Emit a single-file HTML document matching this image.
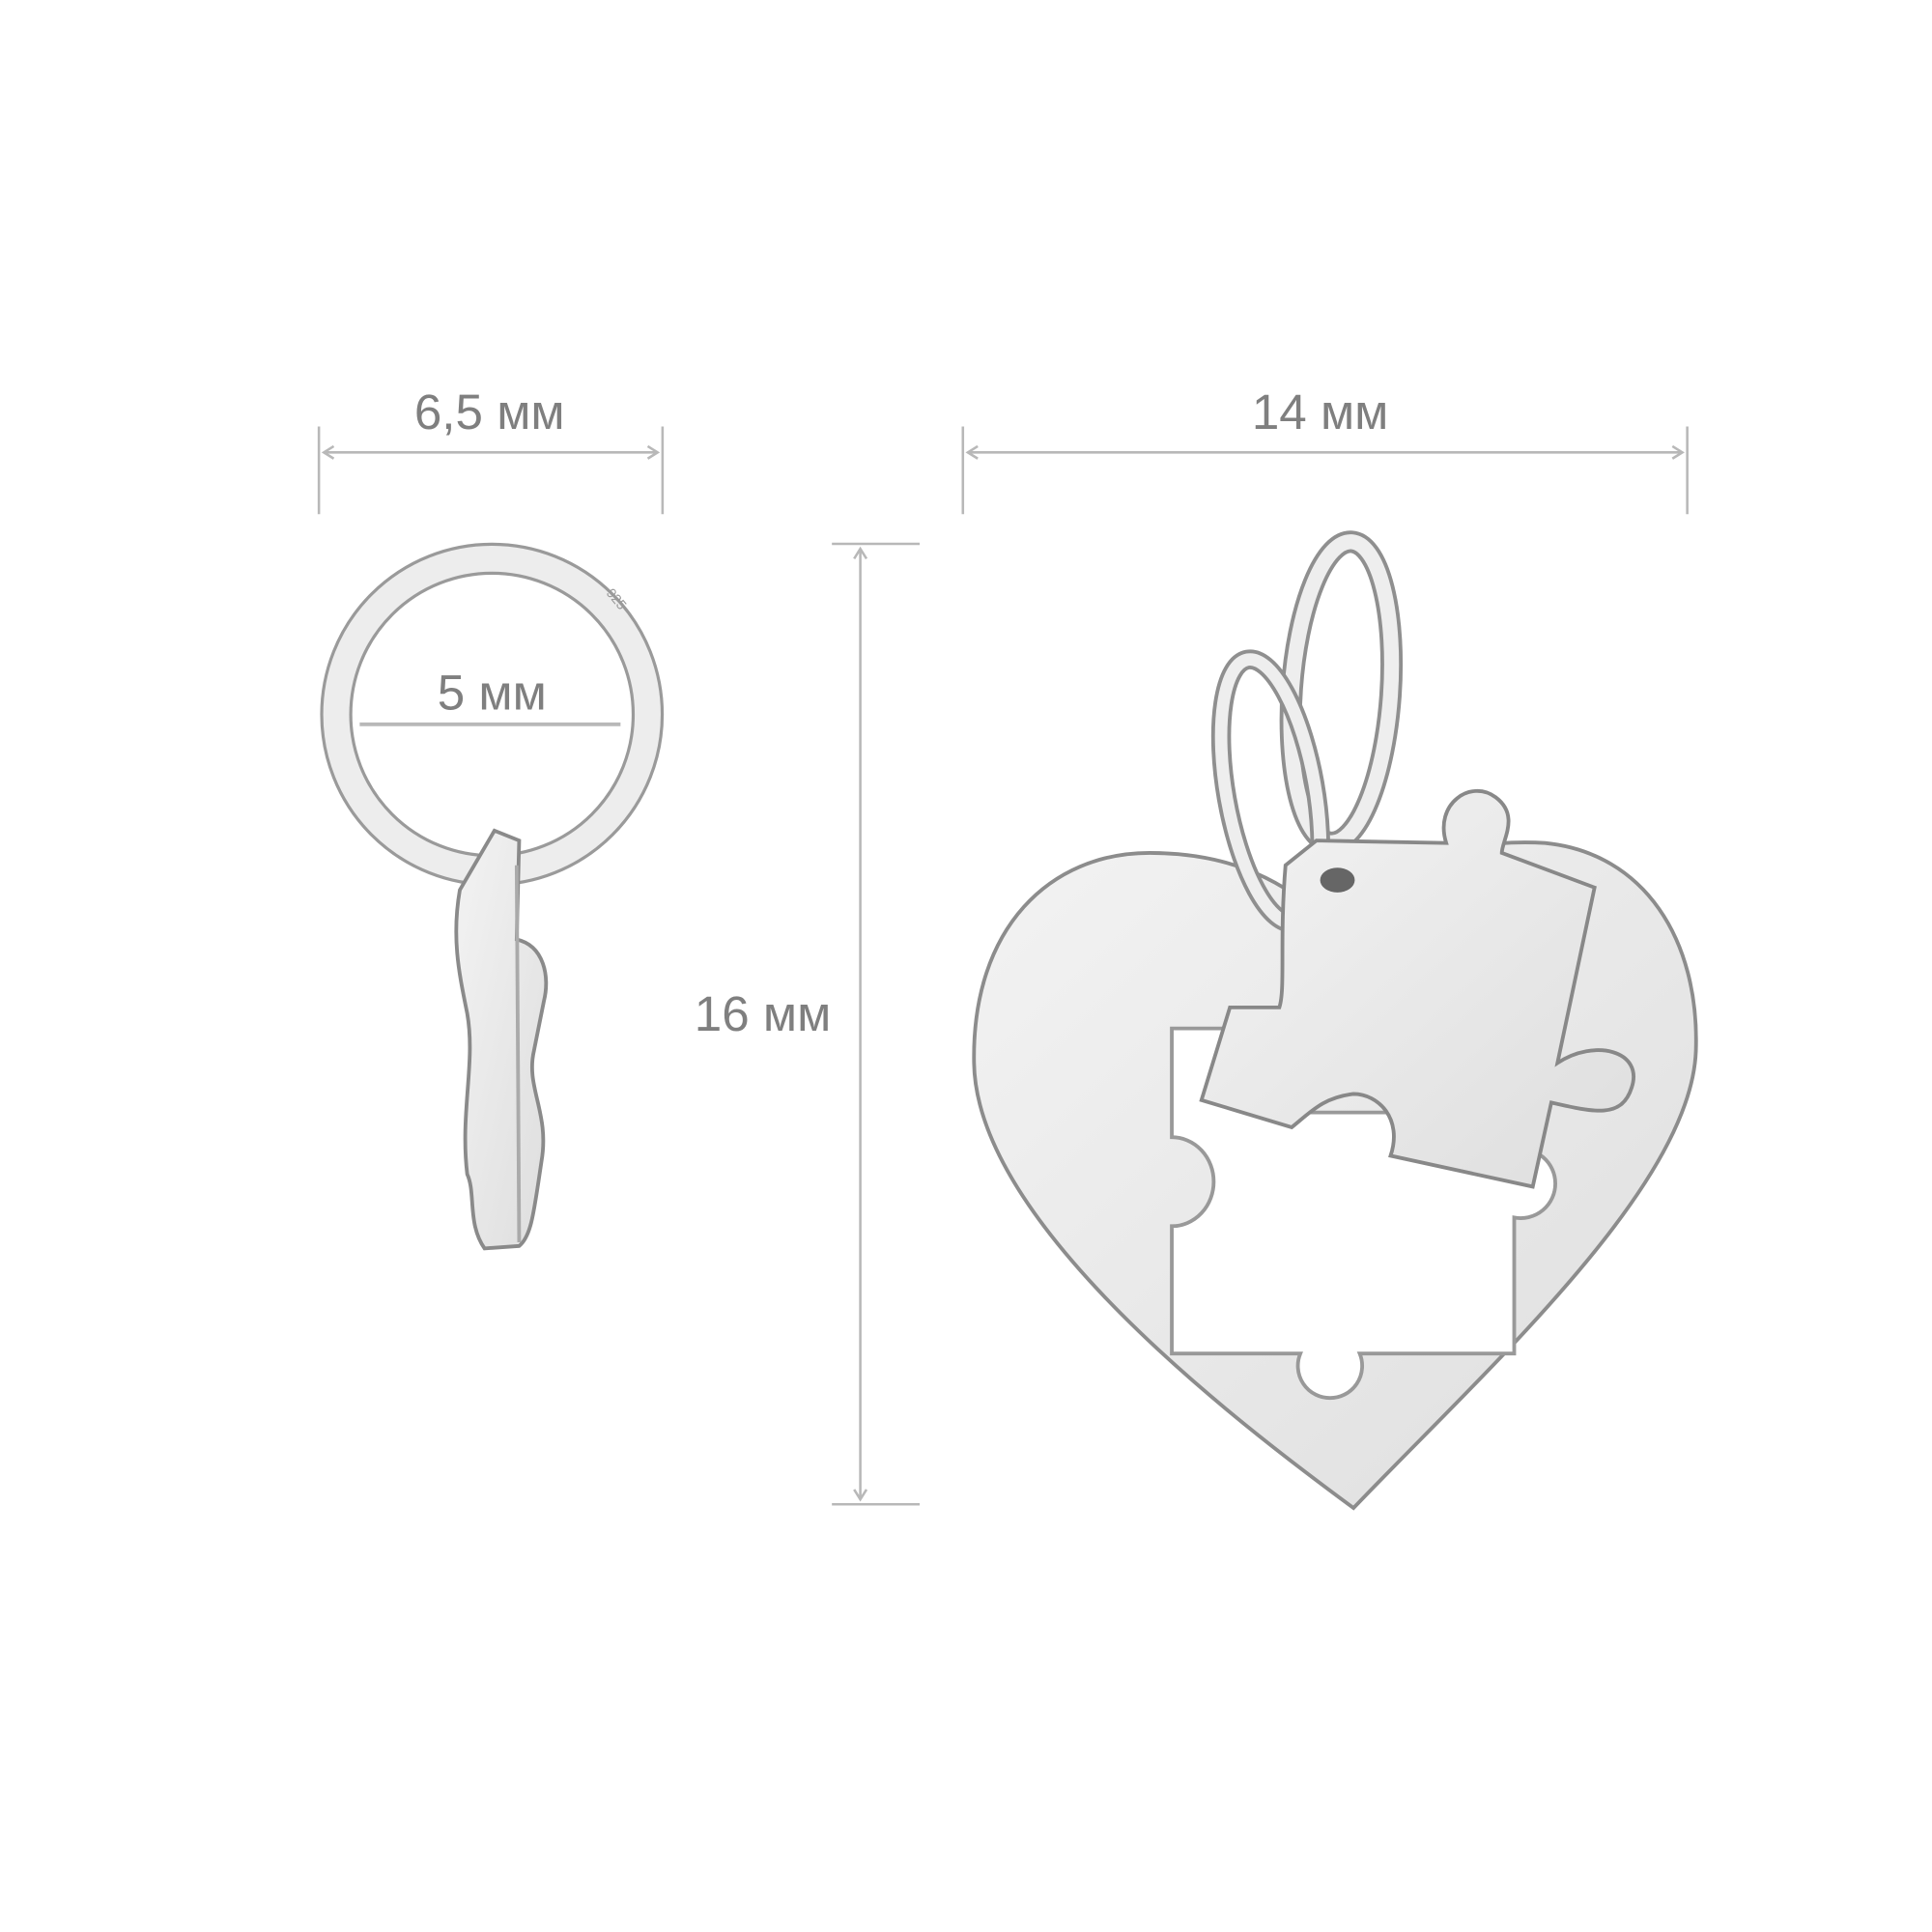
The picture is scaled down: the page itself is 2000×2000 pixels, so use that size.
<!DOCTYPE html>
<html><head><meta charset="utf-8"><style>html,body{margin:0;padding:0;background:#fff}svg{display:block}</style></head>
<body>
<svg width="2000" height="2000" viewBox="0 0 1563 1563" xmlns="http://www.w3.org/2000/svg">
<defs>
<linearGradient id="m" x1="0" y1="0" x2="1" y2="1"><stop offset="0" stop-color="#f3f3f3"/><stop offset="1" stop-color="#dedede"/></linearGradient>
</defs>
<g font-family="Liberation Sans, sans-serif" font-size="40" fill="#7f7f7f" text-anchor="middle">
<text x="396" y="347">6,5 мм</text>
<text x="1068" y="347">14 мм</text>
<text x="617" y="834">16 мм</text>
<text x="398" y="574">5 мм</text>
</g>
<g stroke="#b8b8b8" stroke-width="2" fill="none">
<line x1="258" y1="345" x2="258" y2="416"/><line x1="536" y1="345" x2="536" y2="416"/>
<line x1="262" y1="366" x2="532" y2="366"/>
<line x1="779" y1="345" x2="779" y2="416"/><line x1="1365" y1="345" x2="1365" y2="416"/>
<line x1="783" y1="366" x2="1361" y2="366"/>
<line x1="673" y1="440" x2="744" y2="440"/><line x1="673" y1="1217" x2="744" y2="1217"/>
<line x1="696" y1="444" x2="696" y2="1213"/>
<path d="M270,361 L262,366 L270,371 M524,361 L532,366 L524,371 M791,361 L783,366 L791,371 M1353,361 L1361,366 L1353,371 M691,452 L696,444 L701,452 M691,1205 L696,1213 L701,1205"/>
</g>
<!-- side ring -->
<circle cx="398" cy="578" r="126" fill="none" stroke="#9a9a9a" stroke-width="26"/>
<circle cx="398" cy="578" r="126" fill="none" stroke="#ededed" stroke-width="21"/>
<text x="490" y="480" font-family="Liberation Sans, sans-serif" font-size="11" fill="#999" transform="rotate(50 490 480)">925</text>
<!-- side pendant -->
<path d="M372,720 L400,672 L420,680 L418,760 C440,765 445,790 440,810 L432,850 C425,880 445,900 438,940 C432,980 430,1000 420,1008 L392,1010 C378,990 385,965 378,950 C372,900 385,860 378,820 C372,790 365,760 372,720 Z" fill="url(#m)" stroke="#8a8a8a" stroke-width="3"/>
<path d="M418,700 L420,1005" stroke="#aaa" stroke-width="3"/>
<line x1="291" y1="586" x2="502" y2="586" stroke="#b8b8b8" stroke-width="3"/>
<!-- heart -->
<path d="M1095,1220 C1000,1150 790,990 788,860 C786,750 850,690 930,690 C1000,690 1040,715 1075,745 C1120,700 1180,678 1250,682 C1330,690 1375,760 1372,850 C1368,960 1200,1110 1095,1220 Z" fill="url(#m)" stroke="#8c8c8c" stroke-width="3"/>
<path d="M948,832 L1060,832 L1060,900 L1225,900 L1225,930 A28,28 0 1 1 1225,985 L1225,1095 L1100,1095 A26,26 0 1 1 1052,1095 L948,1095 L948,992 A32,34 0 1 0 948,920 Z" fill="#fff" stroke="#999" stroke-width="3"/>
<!-- rings -->
<ellipse cx="1085" cy="560" rx="40" ry="122" transform="rotate(4 1085 560)" fill="none" stroke="#8f8f8f" stroke-width="18"/>
<ellipse cx="1085" cy="560" rx="40" ry="122" transform="rotate(4 1085 560)" fill="none" stroke="#eeeeee" stroke-width="12"/>
<ellipse cx="1028" cy="640" rx="36" ry="108" transform="rotate(-10 1028 640)" fill="none" stroke="#8f8f8f" stroke-width="16"/>
<ellipse cx="1028" cy="640" rx="36" ry="108" transform="rotate(-10 1028 640)" fill="none" stroke="#eeeeee" stroke-width="10"/>
<!-- puzzle piece -->
<path d="M1040,700 L1065,680 L1170,682 C1160,650 1190,630 1210,645 C1230,660 1215,680 1215,690 L1290,718 L1260,860 C1290,840 1330,850 1320,880 C1312,905 1290,900 1255,892 L1240,960 L1125,935 C1135,905 1115,885 1095,885 C1070,888 1060,900 1045,912 L972,890 L995,815 L1035,815 C1040,800 1035,760 1040,700 Z" fill="url(#m)" stroke="#888" stroke-width="3"/>
<ellipse cx="1082" cy="712" rx="14" ry="10" fill="#666"/>
</svg>
</body></html>
